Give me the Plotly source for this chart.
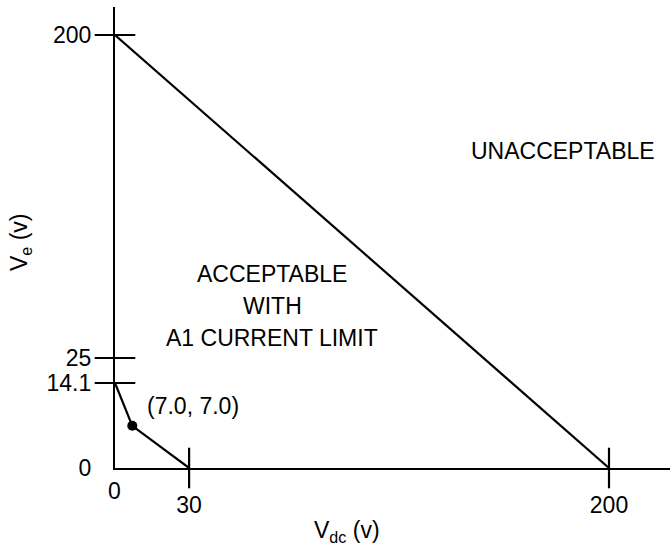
import numpy as np
import plotly.graph_objects as go

# Data
vdc_limit = [0.0, 7.0, 30.0]      # A1 current limit boundary, V_dc
ve_limit = [14.1, 7.0, 0.0]       # A1 current limit boundary, V_e
vdc_max = [0.0, 200.0]            # total limit, V_dc
ve_max = [200.0, 0.0]             # total limit, V_e
corner_vdc = [7.0]
corner_ve = [7.0]
corner_label = ["(7.0, 7.0)"]
x_ticks = [30, 200]
x_tick_text = ["30", "200"]
y_ticks = [0, 14.1, 25, 200]
y_tick_text = ["0", "14.1", "25", "200"]

# the V_e axis is drawn schematically (not to scale): piecewise scale through the ticks
Y_KNOTS = [0, 14.1, 25, 200]
Y_POS = [0, 85, 110, 433]


def yscale(v):
    return np.interp(np.asarray(v, dtype=float), Y_KNOTS, Y_POS)


W, H = 670, 552
L, T, B, R = 115, 7, 84, 0
X_PER_PX = 200 / 494.0
FONT = dict(family="Liberation Sans, Arial, Helvetica, sans-serif", size=23, color="black")
LINE = dict(color="black", width=2.2)

fig = go.Figure()
fig.add_trace(go.Scatter(x=vdc_max, y=yscale(ve_max), mode="lines", line=LINE,
                         hoverinfo="skip", showlegend=False))
fig.add_trace(go.Scatter(x=vdc_limit, y=yscale(ve_limit), mode="lines", line=LINE,
                         hoverinfo="skip", showlegend=False))
fig.add_trace(go.Scatter(x=corner_vdc, y=yscale(corner_ve), mode="markers",
                         marker=dict(color="black", size=10), showlegend=False))

# tick marks crossing the axes
fig.add_trace(go.Scatter(x=x_ticks, y=yscale([0] * len(x_ticks)), mode="markers",
                         marker=dict(symbol="line-ns", size=29, line=dict(color="black", width=2.2)),
                         cliponaxis=False, hoverinfo="skip", showlegend=False))
fig.add_trace(go.Scatter(x=[0] * 3, y=yscale(y_ticks[1:]), mode="markers",
                         marker=dict(symbol="line-ew", size=29, line=dict(color="black", width=2.2)),
                         cliponaxis=False, hoverinfo="skip", showlegend=False))


# label positions in paper units, from pixel positions on the page
def px_x(p):
    return (p - L) / (W - L - R)


def px_y(p):
    return (H - B - p) / (H - B - T)


annos = [
    dict(text="UNACCEPTABLE", x=px_x(563), y=px_y(151)),
    dict(text="ACCEPTABLE", x=px_x(272), y=px_y(274)),
    dict(text="WITH", x=px_x(272), y=px_y(306)),
    dict(text="A1 CURRENT LIMIT", x=px_x(272), y=px_y(338)),
    dict(text=corner_label[0], x=px_x(193), y=px_y(406)),
    dict(text="0", x=px_x(114), y=px_y(491)),
    dict(text="V<sub>dc</sub> (v)", x=px_x(347), y=px_y(531)),
    dict(text="V<sub>e</sub> (v)", x=px_x(20), y=px_y(242), textangle=-90),
]
for a in annos:
    fig.add_annotation(showarrow=False, font=FONT, xref="paper", yref="paper",
                       xanchor="center", yanchor="middle", **a)

fig.update_xaxes(range=[0, (W - L - R) * X_PER_PX], showline=True, linecolor="black", linewidth=2.2,
                 showgrid=False, zeroline=False, ticks="", tickvals=x_ticks, ticktext=x_tick_text,
                 tickfont=FONT, ticklabelstandoff=15)
fig.update_yaxes(range=[0, H - B - T], showline=True, linecolor="black", linewidth=2.2,
                 showgrid=False, zeroline=False, ticks="", tickvals=yscale(y_ticks),
                 ticktext=y_tick_text, tickfont=FONT, ticklabelstandoff=17)
fig.update_layout(width=W, height=H, margin=dict(l=L, r=R, t=T, b=B),
                  plot_bgcolor="white", paper_bgcolor="white", font=FONT, showlegend=False)

# drop the browser's default page margin so the figure sits at the window corner
fig.write_html("out.html", config={"displayModeBar": False},
               post_script="document.body.style.margin='0';")
